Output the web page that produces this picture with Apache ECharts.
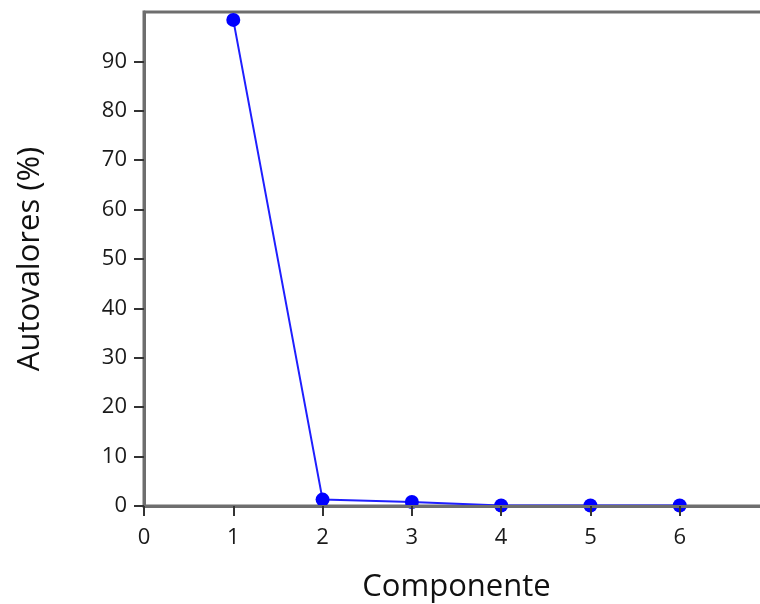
<!DOCTYPE html>
<html>
<head>
<meta charset="utf-8">
<script src="https://cdn.jsdelivr.net/npm/echarts@6/dist/echarts.min.js"></script>
<style>html,body{margin:0;padding:0;background:#fff}#c{width:760px;height:604px}</style>
</head>
<body>
<div id="c"></div>
<script>
const componentes = [1, 2, 3, 4, 5, 6];
const autovalores = [98.4, 1.3, 0.8, 0.1, 0.1, 0.1];
const xTicks = [0, 1, 2, 3, 4, 5, 6];
const yTicks = [0, 10, 20, 30, 40, 50, 60, 70, 80, 90];
const xTitle = 'Componente';
const yTitle = 'Autovalores (%)';

const chart = echarts.init(document.getElementById('c'), null, {renderer: 'canvas'});
const font = '"Open Sans", "Noto Sans", sans-serif';
chart.setOption({
  animation: false,
  backgroundColor: '#fff',
  grid: {left: 144, top: 12, right: -9, bottom: 98, outerBoundsMode: 'none', containLabel: false,
    show: true, borderColor: '#6e6e6e', borderWidth: 3, backgroundColor: 'transparent'},
  xAxis: {
    type: 'value', min: 0, max: 7, interval: 1, z: 10,
    name: xTitle, nameLocation: 'middle', nameGap: 66,
    nameTextStyle: {fontFamily: font, fontSize: 31, color: '#111'},
    axisLine: {show: true, onZero: false, lineStyle: {color: '#6e6e6e', width: 3}},
    axisTick: {show: true, inside: false, length: 10, customValues: xTicks, lineStyle: {color: '#333', width: 2}},
    axisLabel: {fontFamily: font, fontSize: 22, color: '#1a1a1a', margin: 21, customValues: xTicks},
    splitLine: {show: false}
  },
  yAxis: {
    type: 'value', min: 0, max: 100, interval: 10, z: 10,
    name: yTitle, nameLocation: 'middle', nameGap: 98, nameRotate: 90,
    nameTextStyle: {fontFamily: font, fontSize: 31, color: '#111'},
    axisLine: {show: true, onZero: false, lineStyle: {color: '#6e6e6e', width: 3}},
    axisTick: {show: true, inside: false, length: 10, customValues: yTicks, lineStyle: {color: '#333', width: 2}},
    axisLabel: {fontFamily: font, fontSize: 22, color: '#1a1a1a', margin: 17, customValues: yTicks},
    splitLine: {show: false}
  },
  series: [{
    type: 'line',
    data: componentes.map((c, i) => [c, autovalores[i]]),
    symbol: 'circle', symbolSize: 14,
    lineStyle: {color: '#1f1fff', width: 2},
    itemStyle: {color: '#0000ff'},
    z: 1
  }]
});
</script>
</body>
</html>
